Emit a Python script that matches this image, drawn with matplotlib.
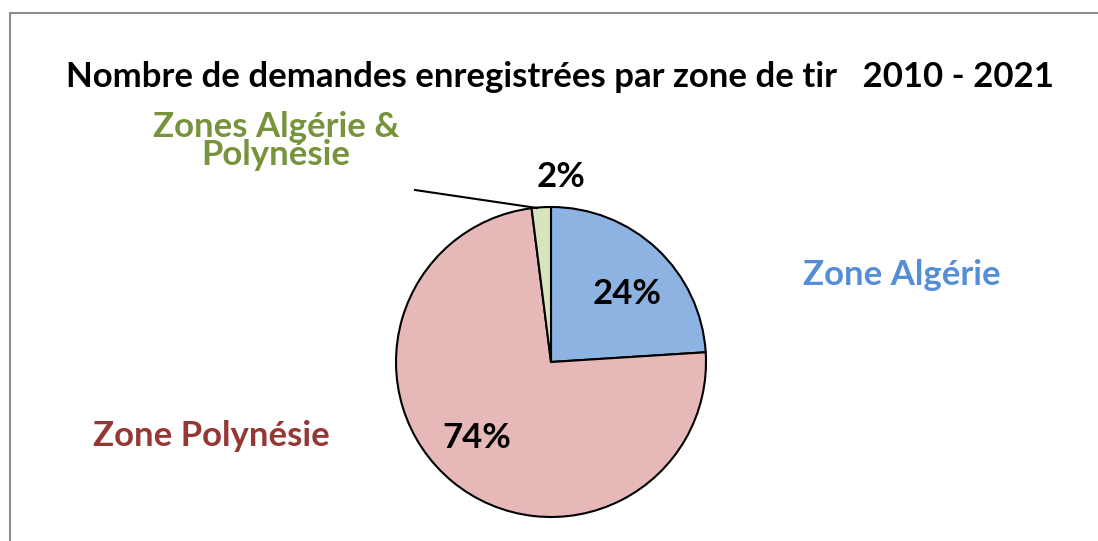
import matplotlib
matplotlib.use("Agg")
import matplotlib.pyplot as plt
from matplotlib.lines import Line2D

plt.rcParams['font.family'] = ['Lato', 'DejaVu Sans']

zones = ['Zone Algérie', 'Zone Polynésie', 'Zones Algérie &\nPolynésie']
parts = [24, 74, 2]
wedge_colors = ['#8DB3E2', '#E6B9B8', '#D7E4BD']
label_colors = ['#558ED5', '#953735', '#77933C']
title = 'Nombre de demandes enregistrées par zone de tir   2010 - 2021'

W, H = 1098, 541
cx, cy, r = 551, 362, 155

fig = plt.figure(figsize=(W / 100, H / 100), dpi=100)
ax = fig.add_axes([0, 0, 1, 1])
ax.pie(parts, colors=wedge_colors, startangle=90, counterclock=False,
       radius=1, wedgeprops=dict(edgecolor='black', linewidth=1.5))
ax.set_xlim(-cx / r, (W - cx) / r)
ax.set_ylim((cy - H) / r, cy / r)
ax.set_aspect('equal')
ax.axis('off')

def px(x, y):
    return (x - cx) / r, (cy - y) / r

# frame
fig.add_artist(Line2D([10 / W, 1], [1 - 13 / H, 1 - 13 / H], color='#8c8c8c', lw=1.5))
fig.add_artist(Line2D([10 / W, 10 / W], [0, 1 - 13 / H], color='#8c8c8c', lw=1.5))

fs = 25
ax.text(*px(560, 77), title, ha='center', va='center', fontsize=fs, fontweight='bold')

# percentages
pct_pos = [(627, 294), (477, 438), (561, 177)]
for p, (x, y) in zip(parts, pct_pos):
    ax.text(*px(x, y), f'{p}%', ha='center', va='center', fontsize=fs, fontweight='bold')

# category labels
lab_pos = [(902, 275), (211, 436), (276, 141)]
for z, c, (x, y) in zip(zones, label_colors, lab_pos):
    ax.text(*px(x, y), z, ha='center', va='center', fontsize=fs, fontweight='bold',
            color=c, linespacing=0.85)

# leader line for small slice
x0, y0 = px(415, 190)
x1, y1 = px(537, 208)
ax.plot([x0, x1], [y0, y1], color='black', lw=1.5)

fig.savefig('out.png', dpi=100)
